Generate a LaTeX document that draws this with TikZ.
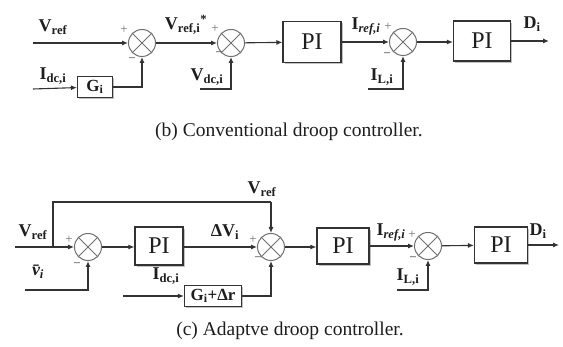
\documentclass[tikz,border=0pt]{standalone}
\usepackage{fontspec}
\setmainfont{Liberation Serif}
\usetikzlibrary{arrows.meta,shadows}
\definecolor{ln}{HTML}{333333}
\definecolor{tx}{HTML}{1E1E1E}
\definecolor{sg}{HTML}{707070}
\tikzset{
  wire/.style={draw=ln, line width=1.1pt},
  arr/.style={wire, -{Latex[length=6pt,width=5pt]}},
  sumnode/.style={circle, draw=sg, line width=1pt, minimum size=27pt, inner sep=0pt},
  xmark/.style={draw=sg, line width=1pt},
  blk/.style={draw=ln, line width=1.1pt, fill=white, inner sep=0pt,
    drop shadow={shadow xshift=1.8pt, shadow yshift=-1.8pt, fill=black!40, opacity=0.6}},
  pibox/.style={blk, text=tx, font=\fontsize{24}{26}\selectfont},
  lab/.style={inner sep=0pt, text=tx, font=\fontsize{18}{20}\selectfont\bfseries},
  sgn/.style={inner sep=0pt, text=sg, font=\fontsize{13}{14}\selectfont},
  captext/.style={inner sep=0pt, text=tx, font=\fontsize{19.5}{22}\selectfont},
}
\begin{document}
\begin{tikzpicture}[x=1pt,y=-1pt]
\useasboundingbox (0,0) rectangle (563,347);
% ---------- (b) conventional ----------
\coordinate (vin) at (33,43);
\coordinate (iin) at (33,89);
\node[sumnode] (s1) at (142,43) {};
\node[blk, minimum width=35pt, minimum height=21pt, text=tx, font=\fontsize{17}{19}\selectfont\bfseries] (g) at (95,87) {G\textsubscript{i}};
\node[sumnode] (s2) at (231,43) {};
\coordinate (vdc) at (200,89);
\node[pibox, minimum width=58pt, minimum height=41pt] (pi1) at (312,42) {PI};
\node[sumnode] (s3) at (403,42) {};
\coordinate (il) at (368,89);
\node[pibox, minimum width=57pt, minimum height=40pt] (pi2) at (482,41) {PI};
\coordinate (out1) at (549,41);

\draw[arr] (vin) -- (s1);
\draw[arr] (iin) -- (g);
\draw[arr] (g.east) -| (s1.south);
\draw[arr] (s1) -- (s2);
\draw[arr] (vdc) -| (s2.south);
\draw[arr] (s2) -- (pi1);
\draw[arr] (pi1.east) -- (s3.west);
\draw[arr] (il) -| (s3.south);
\draw[arr] (s3) -- (pi2.west|-s3);
\draw[arr] (pi2.east) -- (out1);

\node[lab] (l1) at (53,27) {V\textsubscript{ref}};
\node[lab] (l2) at (53,76) {I\textsubscript{dc,i}};
\node[lab] (l3) at (186,25) {V\textsubscript{ref,i}\textsuperscript{*}};
\node[lab] (l4) at (207,77) {V\textsubscript{dc,i}};
\node[lab] (l5) at (366,26) {I\textsubscript{\itshape ref,i}};
\node[lab] (l6) at (382,77) {I\textsubscript{L,i}};
\node[lab] (l7) at (532,24) {D\textsubscript{i}};
\node[sgn] (p1) at (124,30) {+};
\node[sgn] (m1) at (132,60) {\textbf{\textminus}};
\node[sgn] (p2) at (215,29) {+};
\node[sgn] (m2) at (219,54) {\textbf{\textminus}};
\node[sgn] (p3) at (388,27) {+};
\node[sgn] (m3) at (387,55) {\textbf{\textminus}};
\node[captext] (cb) at (289,132) {(b) Conventional droop controller.};

% ---------- (c) adaptive ----------
\coordinate (vin2) at (15,247);
\coordinate (br) at (53,247);
\coordinate (vb) at (25,290);
\node[sumnode] (sa) at (88,247) {};
\node[pibox, minimum width=48pt, minimum height=38pt] (pia) at (159,246) {PI};
\node[sumnode] (sb) at (271,247) {};
\node[blk, minimum width=57pt, minimum height=21pt, text=tx, font=\fontsize{17}{19}\selectfont\bfseries] (gr) at (213,296) {G\textsubscript{i}+Δr};
\coordinate (idc2) at (123,296);
\node[pibox, minimum width=52pt, minimum height=36pt] (pib) at (343,246) {PI};
\node[sumnode] (sc) at (428,246) {};
\coordinate (il2) at (397,290);
\node[pibox, minimum width=53pt, minimum height=36pt] (pic) at (501,245) {PI};
\coordinate (out2) at (559,245);

\foreach \s in {s1,s2,s3,sa,sb,sc}
  \draw[xmark] (\s.north west) -- (\s.south east) (\s.north east) -- (\s.south west);

\draw[arr] (vin2) -- (sa);
\draw[wire] (br) |- (271,202);
\draw[arr] (271,202) -- (sb.north);
\draw[arr] (vb) -| (sa.south);
\draw[arr] (sa) -- (pia.west|-sa);
\draw[arr] (pia.east|-sb) -- (sb.west);
\draw[arr] (idc2) -- (gr);
\draw[arr] (gr.east) -| (sb.south);
\draw[arr] (sb.east) -- (pib.west|-sb);
\draw[arr] (pib.east|-sc) -- (sc.west);
\draw[arr] (il2) -| (sc.south);
\draw[arr] (sc) -- (pic);
\draw[arr] (pic.east) -- (out2);

\node[lab] (k1) at (33,232) {V\textsubscript{ref}};
\node[lab] (k2) at (262,189) {V\textsubscript{ref}};
\node[lab] (k3) at (38,272) {\itshape\=v\textsubscript{i}};
\node[lab] (k4) at (225,232) {ΔV\textsubscript{i}};
\node[lab] (k5) at (166,276) {I\textsubscript{dc,i}};
\node[lab] (k6) at (391,232) {I\textsubscript{\itshape ref,i}};
\node[lab] (k7) at (408,277) {I\textsubscript{L,i}};
\node[lab] (k8) at (538,231) {D\textsubscript{i}};
\node[sgn] (q1) at (69,240) {+};
\node[sgn] (n1) at (77,265) {\textbf{\textminus}};
\node[sgn] (q2) at (253,240) {+};
\node[sgn] (n2) at (258,259) {\textbf{\textminus}};
\node[sgn] (q3) at (412,235) {+};
\node[sgn] (n3) at (413,259) {\textbf{\textminus}};
\node[captext] (cc) at (290,331) {(c) Adaptve droop controller.};
\end{tikzpicture}
\end{document}
